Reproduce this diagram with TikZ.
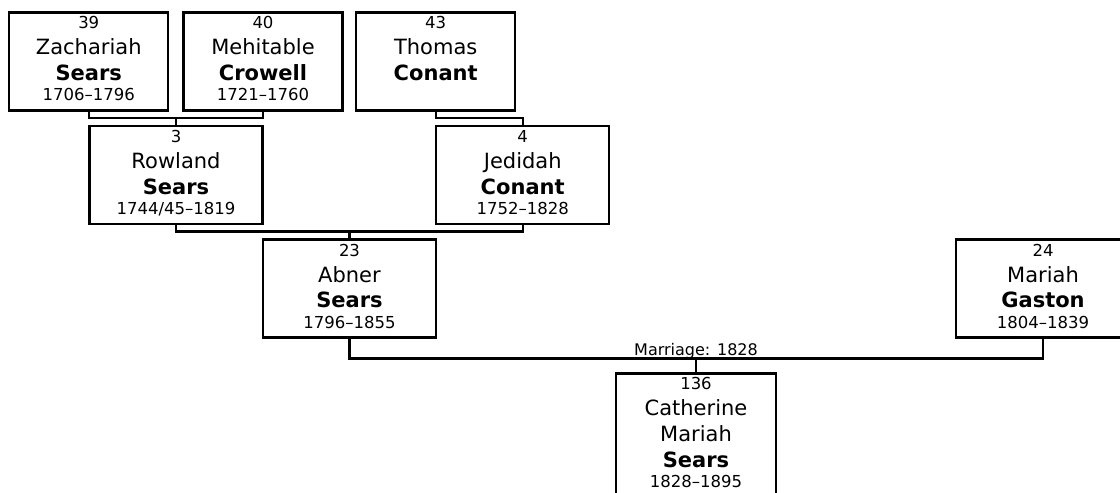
\documentclass[tikz,border=0pt]{standalone}
\usepackage{fontspec}
\setmainfont{DejaVu Sans}
\usetikzlibrary{calc}

\tikzset{
  person/.style={draw=black, line width=2.4pt, fill=white, anchor=north,
    minimum height=98pt, inner sep=0pt, outer sep=0pt},
  numtext/.style={anchor=base, inner sep=0pt, font=\fontsize{16.5}{19}\selectfont},
  nametext/.style={anchor=base, inner sep=0pt, font=\fontsize{21}{25}\selectfont},
  surtext/.style={anchor=base, inner sep=0pt, font=\fontsize{21}{25}\selectfont\bfseries},
  datetext/.style={anchor=base, inner sep=0pt, font=\fontsize{16.5}{19}\selectfont}
}

\begin{document}
\begin{tikzpicture}[x=1pt, y=-1pt, line width=2.4pt]
\useasboundingbox (0,0) rectangle (1120,493);

% Person boxes
\foreach \id/\x/\y/\w in {z/88.75/12.3/159, m/263/12.3/159, t/435.7/12.3/159,
  r/176/126/173, j/522.7/126/173, a/349.5/239.5/173, g/1043/239.5/174}
\node[person, minimum width=\w pt] (\id) at (\x,\y) {};
\node[person, minimum width=160pt, minimum height=130pt] (c) at (696,373.3) {};

% Number, first name and surname
\foreach \id/\num/\first/\last in {z/39/Zachariah/Sears, m/40/Mehitable/Crowell,
  t/43/Thomas/Conant, r/3/Rowland/Sears, j/4/Jedidah/Conant, a/23/Abner/Sears,
  g/24/Mariah/Gaston}{
\node[numtext] (\id-num) at ([yshift=-16.5pt]\id.north) {\num};
\node[nametext] (\id-first) at ([yshift=-42.5pt]\id.north) {\first};
\node[surtext] (\id-last) at ([yshift=-68pt]\id.north) {\last};
}

% Dates
\foreach \id/\dates in {z/1706–1796, m/1721–1760, r/{1744/45–1819}, j/1752–1828,
  a/1796–1855, g/1804–1839}
\node[datetext] (\id-dates) at ([yshift=-88.5pt]\id.north) {\dates};

% Catherine
\node[numtext] (c-num) at ([yshift=-16.5pt]c.north) {136};
\node[nametext] (c-first) at ([yshift=-42pt]c.north) {Catherine};
\node[nametext] (c-middle) at ([yshift=-68.5pt]c.north) {Mariah};
\node[surtext] (c-last) at ([yshift=-94.5pt]c.north) {Sears};
\node[datetext] (c-dates) at ([yshift=-114.5pt]c.north) {1828–1895};

% Connections
\draw (z.south) -- ++(0,7.5) coordinate (zm) -| (m.south);
\draw (r.north) -- (r.north |- zm);
\draw (t.south) -- ++(0,7.5) -| (j.north);
\draw (r.south) -- ++(0,7.5) coordinate (rj) -| (j.south);
\draw (a.north) -- (a.north |- rj);
\draw (a.south) -- ++(0,21) coordinate (ag) -| (g.south);
\draw (c.north) -- (c.north |- ag);

% Marriage label
\node[datetext, font=\fontsize{16}{19}\selectfont] (marriage) at ([yshift=3pt]c.north |- ag) {Marriage: 1828};

\end{tikzpicture}
\end{document}
